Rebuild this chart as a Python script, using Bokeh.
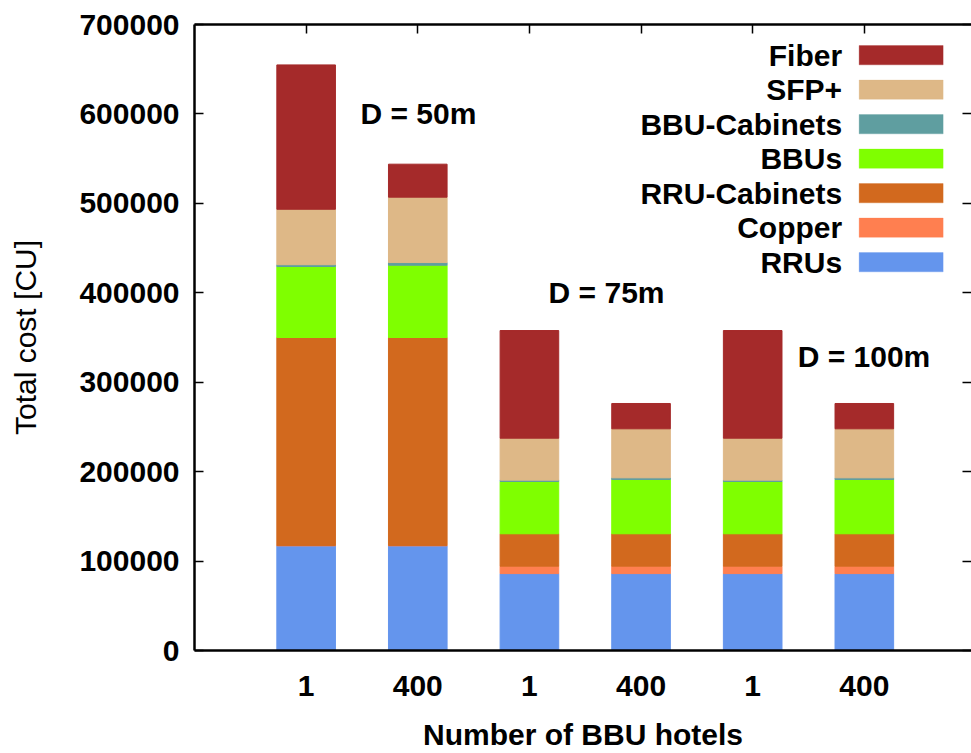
from bokeh.plotting import figure
from bokeh.models import (Range1d, FixedTicker, LinearAxis, Label, BoxAnnotation,
                          NumeralTickFormatter, ColumnDataSource)
from bokeh.embed import file_html
from bokeh.resources import INLINE

# ---------------- data ----------------
categories = ["1", "400", "1", "400", "1", "400"]
distance_labels = ["D = 50m", "D = 75m", "D = 100m"]
series = ["RRUs", "Copper", "RRU-Cabinets", "BBUs", "BBU-Cabinets", "SFP+", "Fiber"]
rrus = [117000, 117000, 86000, 86000, 86000, 86000]
copper = [500, 500, 8300, 8300, 8300, 8300]
rru_cabinets = [232500, 232500, 36200, 36200, 36200, 36200]
bbus = [79400, 80800, 58500, 60700, 58500, 60700]
bbu_cabinets = [2000, 3000, 1500, 1900, 1500, 1900]
sfp = [62000, 73100, 46900, 54800, 46900, 54800]
fiber = [161400, 36900, 120400, 28300, 120400, 28300]
y_ticks = [0, 100000, 200000, 300000, 400000, 500000, 600000, 700000]

colors = ["#6495ED", "#FF7F50", "#D2691E", "#7FFF00", "#5F9EA0", "#DEB887", "#A52A2A"]

FONT = "Liberation Sans"
FS = "30px"

xpos = list(range(len(categories)))
source = ColumnDataSource(dict(x=xpos, **{
    "RRUs": rrus, "Copper": copper, "RRU-Cabinets": rru_cabinets, "BBUs": bbus,
    "BBU-Cabinets": bbu_cabinets, "SFP+": sfp, "Fiber": fiber}))

X0, X1 = -1.0, 5.96
Y0, Y1 = 0, 700000

p = figure(width=971, height=753, output_backend="svg", toolbar_location=None,
           x_range=Range1d(X0, X1), y_range=Range1d(Y0, Y1),
           min_border_left=194, min_border_right=0, min_border_top=24,
           min_border_bottom=103)
p.outline_line_color = None
p.background_fill_color = "white"
p.border_fill_color = "white"
p.xgrid.visible = False
p.ygrid.visible = False

p.vbar_stack(series, x="x", width=0.525, color=colors, source=source)

# ---------- axes ----------
AX_W = 2.5
xa = p.xaxis[0]
xa.ticker = FixedTicker(ticks=xpos)
xa.major_label_overrides = {i: c for i, c in enumerate(categories)}
xa.major_tick_in = 0
xa.major_tick_out = 0
xa.minor_tick_in = 0
xa.minor_tick_out = 0
xa.axis_line_width = AX_W
xa.axis_line_color = "black"
xa.major_label_text_font = FONT
xa.major_label_text_font_style = "bold"
xa.major_label_text_font_size = FS
xa.major_label_text_color = "black"
xa.major_label_standoff = 25
xa.axis_label = "Number of BBU hotels"
xa.axis_label_text_font = FONT
xa.axis_label_text_font_style = "bold"
xa.axis_label_text_font_size = FS
xa.axis_label_text_color = "black"
xa.axis_label_standoff = 19

ya = p.yaxis[0]
ya.ticker = FixedTicker(ticks=y_ticks)
ya.formatter = NumeralTickFormatter(format="0")
ya.major_tick_in = 9
ya.major_tick_out = 0
ya.minor_tick_in = 0
ya.minor_tick_out = 0
ya.major_tick_line_width = 1.5
ya.axis_line_width = AX_W
ya.axis_line_color = "black"
ya.major_label_text_font = FONT
ya.major_label_text_font_style = "bold"
ya.major_label_text_font_size = FS
ya.major_label_text_color = "black"
ya.major_label_standoff = 15
ya.axis_label = "Total cost [CU]"
ya.axis_label_text_font = FONT
ya.axis_label_text_font_style = "normal"
ya.axis_label_text_font_size = FS
ya.axis_label_text_color = "black"
ya.axis_label_standoff = 34

top = LinearAxis(ticker=FixedTicker(ticks=xpos), axis_line_width=AX_W,
                 major_tick_in=9, major_tick_out=0, minor_tick_in=0, minor_tick_out=0,
                 major_tick_line_width=1.5, major_label_text_font_size="0px",
                 major_label_standoff=0,
                 major_label_overrides={i: "" for i in xpos})
p.add_layout(top, "above")

right = LinearAxis(ticker=FixedTicker(ticks=y_ticks), axis_line_color=None,
                   major_tick_in=9, major_tick_out=0, minor_tick_in=0, minor_tick_out=0,
                   major_tick_line_width=1.5, major_label_text_font_size="0px",
                   major_label_standoff=0,
                   major_label_overrides={t: "" for t in y_ticks})
p.add_layout(right, "right")

# ---------- annotations (distance labels) ----------
label_pos = [(0.487, 600000), (2.172, 400000), (4.403, 328700)]
for txt, (lx, ly) in zip(distance_labels, label_pos):
    p.add_layout(Label(x=lx, y=ly, text=txt, text_font=FONT, text_font_style="bold",
                       text_font_size=FS, text_color="black", text_baseline="middle",
                       text_align="left"))

# ---------- legend (manual, label left of swatch) ----------
PX_PER_X = 777 / (X1 - X0)
PX_PER_Y = 626 / (Y1 - Y0)


def dx(px):  # pixel offset from first bar centre -> data x
    return px / PX_PER_X


def dy(px):  # pixel from frame top -> data y
    return Y1 - px / PX_PER_Y


sw_left, sw_right = dx(859 - 306), dx(943 - 306)
txt_right = dx(842 - 306)
row0, step, sw_h = 54.7 - 24, 34.5, 19.3
for i, (name, col) in enumerate(zip(series[::-1], colors[::-1])):
    cy = row0 + i * step
    p.add_layout(BoxAnnotation(left=sw_left, right=sw_right,
                               top=dy(cy - sw_h / 2), bottom=dy(cy + sw_h / 2),
                               fill_color=col, fill_alpha=1.0, line_color=col,
                               line_width=1))
    p.add_layout(Label(x=txt_right, y=dy(cy), text=name, text_font=FONT,
                       text_font_style="bold", text_font_size=FS, text_color="black",
                       text_align="right", text_baseline="middle"))

open("out.html", "w").write(file_html(p, INLINE))
